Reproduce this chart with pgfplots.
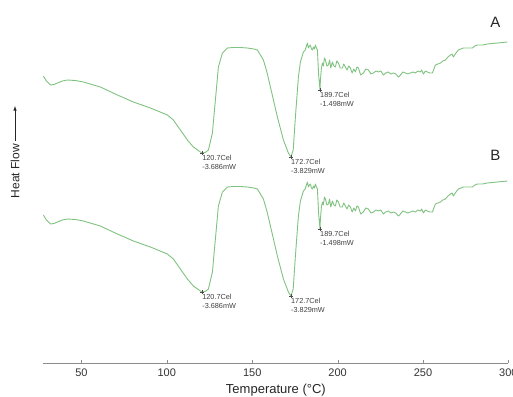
\documentclass[border=0pt]{standalone}
\usepackage{pgfplots}
\pgfplotsset{compat=1.18}
\usepackage{pgfplotstable}
\usepackage{fontspec}
\setmainfont{Liberation Sans}
\definecolor{curve}{RGB}{128,194,128}
\pgfplotstableread{
T A B
27.75 -76 -215
29.5 -81 -220
31.85 -85 -224
33.9 -84.5 -223.5
35.95 -83 -222
38.9 -81 -220
41.80 -80 -219
46.5 -80.5 -219.5
51.17 -82 -221
56.1 -84.5 -223.5
61.12 -87 -226
66.1 -91 -230
71.08 -95 -234
75.8 -98.5 -237.5
80.44 -102 -241
85.4 -105 -244
90.40 -108 -247
95.4 -111.5 -250.5
100.35 -115 -254
103.86 -120 -259
107.96 -130 -269
112.06 -140 -279
115.57 -147 -286
119.67 -152 -291
120.7 -153 -292
122.5 -152.5 -291.5
124.36 -150 -289
126.70 -133 -272
128.45 -100 -239
130.21 -67 -206
132.55 -53 -192
135.48 -48 -187
138.99 -47.5 -186.5
143.0 -47.5 -186.5
147.19 -48 -187
148.95 -48.5 -187.5
151.0 -49 -188
153.04 -50 -189
156.56 -60 -199
158.6 -72 -211
160.66 -87 -226
164.75 -117 -256
168.27 -140 -279
171.19 -153 -292
172.7 -157 -296
174.0 -150 -289
175.29 -117 -256
177.05 -77 -216
178.22 -62 -201
179.98 -52 -191
181.0 -50 -189
182.32 -43 -182
182.90 -48 -187
183.5 -46 -185
184.07 -45 -184
184.7 -49 -188
185.25 -50 -189
185.83 -47 -186
186.4 -49 -188
187.0 -45 -184
187.6 -48 -187
188.17 -50 -189
188.9 -75 -214
189.7 -90 -229
189.93 -80 -219
190.52 -68 -207
191.1 -63 -202
191.7 -66 -205
192.3 -58 -197
192.86 -60 -199
193.7 -66 -205
194.61 -65 -204
195.3 -60 -199
196.0 -68 -207
196.96 -62 -201
197.8 -66 -205
198.71 -67 -206
199.5 -61 -200
200.47 -63 -202
201.5 -68 -207
202.81 -68 -207
203.6 -64 -203
204.57 -67 -206
205.5 -70 -209
206.5 -66 -205
207.49 -68 -207
208.5 -73 -212
209.5 -69 -208
210.42 -72 -211
211.3 -67 -206
212.18 -68 -207
213.5 -75 -214
215.11 -73 -212
216.5 -69 -208
218.03 -70 -209
219.5 -74 -213
220.96 -73 -212
222.5 -71 -210
223.89 -72 -211
225.3 -71 -210
226.81 -75 -214
228.2 -73 -212
229.74 -72 -211
231.2 -74 -213
232.67 -73 -212
234.1 -74 -213
235.6 -77 -216
236.77 -75 -214
238.2 -72 -211
239.70 -73 -212
241.1 -74 -213
242.62 -73 -212
244.1 -72 -211
245.55 -73 -212
247.0 -71 -210
248.48 -72 -211
249.2 -70 -209
250.23 -74 -213
251.4 -71 -210
252.58 -72 -211
254.0 -73 -212
255.5 -73 -212
257.26 -65 -204
258.7 -64 -203
260.19 -63 -202
261.6 -61 -200
263.11 -60 -199
264.6 -57 -196
266.04 -55 -194
267.0 -54 -193
267.80 -57 -196
269.3 -53 -192
270.73 -50 -189
272.2 -49 -188
273.65 -48 -187
276.3 -48 -187
278.92 -48 -187
280.4 -46 -185
281.85 -45 -184
284.8 -45 -184
287.70 -44 -183
290.6 -43.5 -182.5
293.56 -43 -182
296.5 -42.5 -181.5
299.41 -42 -181
}\dsc

\begin{document}
\begin{tikzpicture}
\path[use as bounding box] (0,0) rectangle (513pt,-396pt);
\begin{axis}[
  at={(43.4pt,-363pt)}, anchor=south west,
  scale only axis, width=465pt, height=363pt,
  xmin=27.75, xmax=300, ymin=-363, ymax=0,
  axis x line=bottom, axis y line=none,
  x axis line style={-, draw=black!45},
  xtick={50,100,...,300}, ytick=\empty,
  tick align=inside, major tick length=3pt,
  xtick style={draw=black!45},
  ticklabel style={font=\fontsize{11}{13}\selectfont, text=black!80},
  xticklabel style={yshift=-2.5pt},
  /pgf/number format/assume math mode=true,
  xlabel={Temperature (°C)},
  xlabel style={font=\fontsize{13}{15}\selectfont, text=black!85, yshift=-0.5pt},
  clip=false,
]
\addplot[curve, line width=0.9pt, line join=round] table[x=T, y=A] {\dsc};
\addplot[curve, line width=0.9pt, line join=round] table[x=T, y=B] {\dsc};
\addplot[only marks, mark=+, mark size=2pt, black!70] coordinates {(120.7,-153) (172.7,-157) (189.7,-90) (120.7,-292) (172.7,-296) (189.7,-229)};
\tikzset{ann/.style={anchor=north west, font=\fontsize{7.3}{8.8}\selectfont, align=left, inner sep=0pt, text=black!75}}
\node[ann] at (axis cs:120.7,-155) {120.7Cel\\-3.686mW};
\node[ann] at (axis cs:172.7,-159) {172.7Cel\\-3.829mW};
\node[ann] at (axis cs:189.7,-92) {189.7Cel\\-1.498mW};
\node[ann] at (axis cs:120.7,-294) {120.7Cel\\-3.686mW};
\node[ann] at (axis cs:172.7,-298) {172.7Cel\\-3.829mW};
\node[ann] at (axis cs:189.7,-231) {189.7Cel\\-1.498mW};
\node[font=\fontsize{15}{15}\selectfont, text=black!85] at (axis cs:292.4,-22) {A};
\node[font=\fontsize{15}{15}\selectfont, text=black!85] at (axis cs:292.4,-155) {B};
\end{axis}
\node[rotate=90, font=\fontsize{12}{14}\selectfont, text=black!85] at (15pt,-171pt) {Heat Flow};
\draw[-latex, black!85, line width=0.6pt] (15pt,-141pt) -- (15pt,-106pt);
\end{tikzpicture}
\end{document}
